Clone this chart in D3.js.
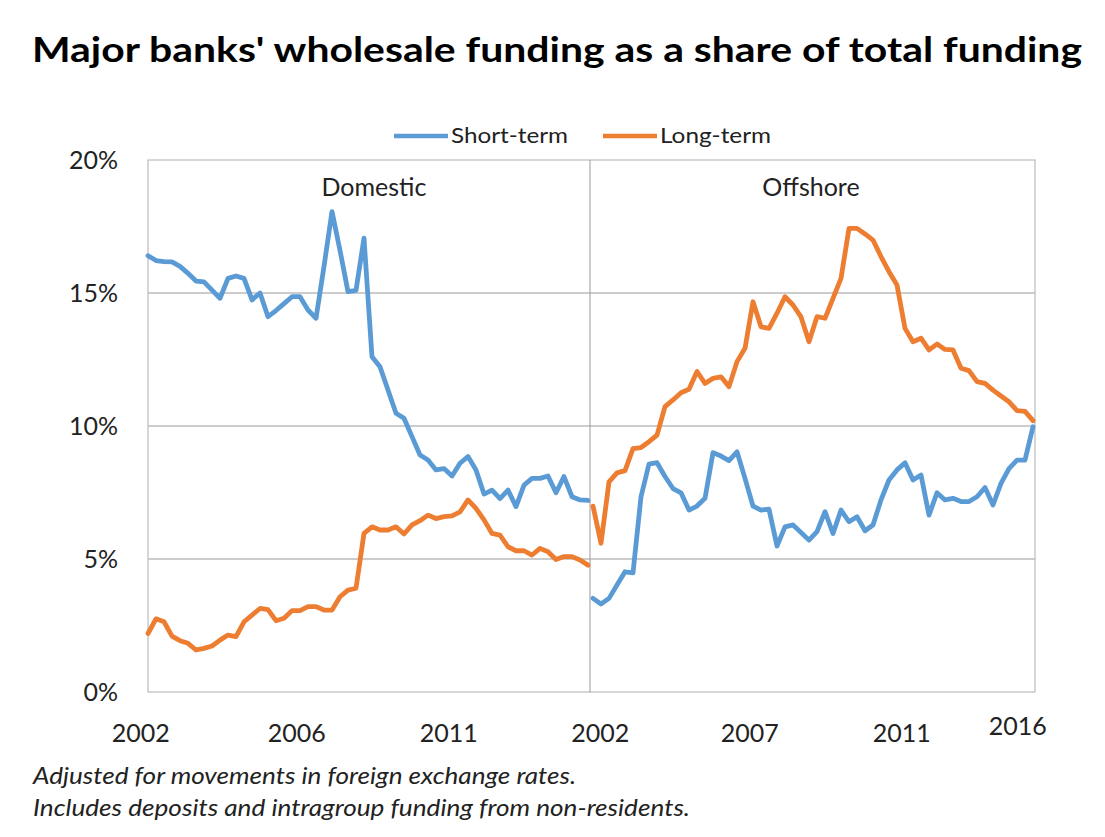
<!DOCTYPE html>
<html>
<head>
<meta charset="utf-8">
<script src="https://cdn.jsdelivr.net/npm/d3@7"></script>
<style>
  html, body { margin: 0; padding: 0; background: #fff; }
  svg { display: block; font-family: Lato, "Open Sans", "Liberation Sans", sans-serif; }
</style>
</head>
<body>
<svg id="chart" width="1105" height="837"></svg>
<script>
// ---------- data ----------
const title = "Major banks' wholesale funding as a share of total funding";
const seriesNames = ["Short-term", "Long-term"];
const panelNames = ["Domestic", "Offshore"];
const yTicks = [0, 5, 10, 15, 20];

// quarterly observations (per cent), 56 per panel
const domesticShort = [16.4, 16.22, 16.18, 16.17, 16.0, 15.74, 15.45, 15.42, 15.11, 14.8,
  15.55, 15.64, 15.55, 14.74, 15.0, 14.11, 14.34, 14.6, 14.86, 14.86,
  14.36, 14.05, 16.0, 18.06, 16.6, 15.05, 15.1, 17.06, 12.6, 12.23,
  11.35, 10.48, 10.29, 9.6, 8.91, 8.72, 8.35, 8.4, 8.12, 8.6,
  8.85, 8.35, 7.44, 7.59, 7.27, 7.59, 6.97, 7.78, 8.03, 8.03,
  8.12, 7.49, 8.1, 7.34, 7.22, 7.2];
const domesticLong = [2.2, 2.75, 2.64, 2.1, 1.93, 1.83, 1.58, 1.64, 1.73, 1.95,
  2.14, 2.08, 2.64, 2.89, 3.14, 3.1, 2.68, 2.77, 3.06, 3.06,
  3.21, 3.21, 3.08, 3.08, 3.58, 3.83, 3.9, 5.96, 6.21, 6.09,
  6.09, 6.21, 5.94, 6.28, 6.44, 6.65, 6.52, 6.59, 6.62, 6.77,
  7.22, 6.9, 6.47, 5.96, 5.9, 5.46, 5.31, 5.31, 5.15, 5.4,
  5.27, 4.98, 5.09, 5.09, 4.96, 4.77];
const offshoreShort = [3.52, 3.31, 3.52, 4.02, 4.52, 4.48, 7.34, 8.57, 8.62, 8.1,
  7.65, 7.49, 6.84, 6.99, 7.28, 9.0, 8.87, 8.7, 9.03, 8.03,
  6.99, 6.84, 6.87, 5.49, 6.21, 6.28, 6.0, 5.71, 6.03, 6.78,
  5.96, 6.84, 6.4, 6.59, 6.06, 6.28, 7.22, 7.97, 8.35, 8.62,
  7.97, 8.16, 6.65, 7.49, 7.22, 7.28, 7.16, 7.16, 7.34, 7.69,
  7.03, 7.84, 8.4, 8.72, 8.72, 9.97];
const offshoreLong = [6.99, 5.59, 7.9, 8.24, 8.32, 9.15, 9.19, 9.41, 9.66, 10.73,
  10.98, 11.25, 11.38, 12.05, 11.6, 11.79, 11.85, 11.48, 12.42, 12.92,
  14.67, 13.73, 13.67, 14.24, 14.86, 14.55, 14.1, 13.17, 14.11, 14.05,
  14.8, 15.55, 17.43, 17.43, 17.22, 16.99, 16.37, 15.8, 15.3, 13.67,
  13.17, 13.3, 12.86, 13.08, 12.88, 12.86, 12.17, 12.08, 11.67, 11.6,
  11.35, 11.13, 10.91, 10.58, 10.55, 10.2];

// x-axis tick labels (position in quarter-index units within each panel)
const domesticTickLabels = ["2002", "2006", "2011"];
const domesticTickAt = [-0.9, 18.6, 37.6];
const offshoreTickLabels = ["2002", "2007", "2011", "2016"];
const offshoreTickAt = [0.9, 19.6, 38.6, 53.1];

const footnotes = ["Adjusted for movements in foreign exchange rates.",
                   "Includes deposits and intragroup funding from non-residents."];

// ---------- layout ----------
const colors = { short: "#5B9BD5", long: "#ED7D31" };
const plot = { left: 148, right: 1035, top: 160, bottom: 692, divider: 590 };
const svg = d3.select("#chart");

const y = d3.scaleLinear().domain([0, 20]).range([plot.bottom, plot.top]);
const xDom = d3.scaleLinear().domain([0, domesticShort.length - 1]).range([148, 588]);
const xOff = d3.scaleLinear().domain([0, offshoreShort.length - 1]).range([593, 1033]);

// title
svg.append("text")
  .attr("x", 557).attr("y", 62)
  .attr("text-anchor", "middle")
  .attr("font-size", 34).attr("font-weight", 700).attr("fill", "#000")
  .attr("textLength", 1050).attr("lengthAdjust", "spacingAndGlyphs")
  .text(title);

// legend
const legendItems = [
  { name: seriesNames[0], color: colors.short, x0: 394, w: 117 },
  { name: seriesNames[1], color: colors.long, x0: 603, w: 111 }
];
legendItems.forEach(it => {
  svg.append("line").attr("x1", it.x0).attr("x2", it.x0 + 54)
    .attr("y1", 136).attr("y2", 136)
    .attr("stroke", it.color).attr("stroke-width", 4.5);
  svg.append("text").attr("x", it.x0 + 57).attr("y", 143)
    .attr("font-size", 22).attr("fill", "#222")
    .attr("textLength", it.w).attr("lengthAdjust", "spacingAndGlyphs")
    .text(it.name);
});

// gridlines
svg.append("g").selectAll("line").data(yTicks.filter(d => d > 0 && d < 20)).join("line")
  .attr("x1", plot.left).attr("x2", plot.right)
  .attr("y1", d => y(d)).attr("y2", d => y(d))
  .attr("stroke", "#999").attr("stroke-width", 1);

// frame
svg.append("rect")
  .attr("x", plot.left).attr("y", plot.top)
  .attr("width", plot.right - plot.left).attr("height", plot.bottom - plot.top)
  .attr("fill", "none").attr("stroke", "#bbb").attr("stroke-width", 1.2);

// divider
svg.append("line")
  .attr("x1", plot.divider).attr("x2", plot.divider)
  .attr("y1", plot.top).attr("y2", plot.bottom)
  .attr("stroke", "#999").attr("stroke-width", 1);

// y axis labels
svg.append("g").selectAll("text").data(yTicks).join("text")
  .attr("x", 118).attr("y", d => y(d) + 9)
  .attr("text-anchor", "end")
  .attr("font-size", 25).attr("fill", "#222")
  .text(d => d + "%");

// x axis labels
function xLabels(labels, at, scale) {
  svg.append("g").selectAll("text").data(labels).join("text")
    .attr("x", (d, i) => scale(at[i]))
    .attr("y", d => d === "2016" ? 735 : 742)
    .attr("text-anchor", "middle")
    .attr("font-size", 25).attr("fill", "#222")
    .text(d => d);
}
xLabels(domesticTickLabels, domesticTickAt, xDom);
xLabels(offshoreTickLabels, offshoreTickAt, xOff);

// panel labels
svg.append("text").attr("x", 374).attr("y", 196).attr("text-anchor", "middle")
  .attr("font-size", 25).attr("fill", "#222").text(panelNames[0]);
svg.append("text").attr("x", 811).attr("y", 196).attr("text-anchor", "middle")
  .attr("font-size", 25).attr("fill", "#222").text(panelNames[1]);

// lines
function drawLine(values, scale, color) {
  const line = d3.line().x((d, i) => scale(i)).y(d => y(d)).curve(d3.curveLinear);
  svg.append("path").datum(values)
    .attr("d", line)
    .attr("fill", "none").attr("stroke", color)
    .attr("stroke-width", 4.8).attr("stroke-linejoin", "round").attr("stroke-linecap", "round");
}
drawLine(domesticShort, xDom, colors.short);
drawLine(domesticLong, xDom, colors.long);
drawLine(offshoreShort, xOff, colors.short);
drawLine(offshoreLong, xOff, colors.long);

// footnotes
const footWidths = [543, 657];
svg.append("g").selectAll("text").data(footnotes).join("text")
  .attr("x", 33).attr("y", (d, i) => 784 + i * 32)
  .attr("font-size", 23).attr("font-style", "italic").attr("fill", "#222")
  .attr("textLength", (d, i) => footWidths[i]).attr("lengthAdjust", "spacingAndGlyphs")
  .text(d => d);
</script>
</body>
</html>
